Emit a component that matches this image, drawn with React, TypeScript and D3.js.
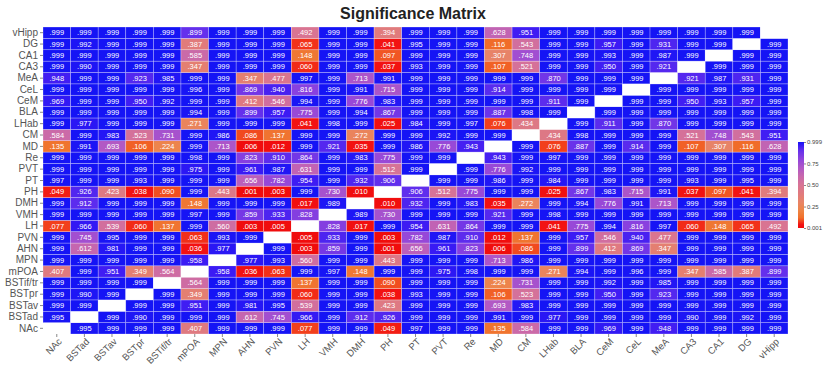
import React, { useEffect, useRef } from "react";
import * as d3 from "d3";

// region order: columns left->right, rows bottom->top
const regions = [
  "NAc", "BSTad", "BSTav", "BSTpr", "BSTif/tr", "mPOA", "MPN", "AHN", "PVN",
  "LH", "VMH", "DMH", "PH", "PT", "PVT", "Re", "MD", "CM", "LHab", "BLA",
  "CeM", "CeL", "MeA", "CA3", "CA1", "DG", "vHipp",
];

// lower triangle, row i holds p-values vs regions[0..i-1]
const rowBSTad = [0.995];
const rowBSTav = [0.999, 0.999];
const rowBSTpr = [0.999, 0.99, 0.999];
const rowBSTif = [0.999, 0.999, 0.999, 0.999];
const rowmPOA = [0.407, 0.999, 0.951, 0.349, 0.564];
const rowMPN = [0.999, 0.999, 0.999, 0.999, 0.999, 0.958];
const rowAHN = [0.999, 0.612, 0.981, 0.999, 0.999, 0.036, 0.977];
const rowPVN = [0.999, 0.745, 0.995, 0.999, 0.999, 0.063, 0.993, 0.999];
const rowLH = [0.077, 0.966, 0.539, 0.06, 0.137, 0.999, 0.56, 0.003, 0.005];
const rowVMH = [0.999, 0.999, 0.999, 0.999, 0.999, 0.997, 0.999, 0.859, 0.933, 0.828];
const rowDMH = [0.999, 0.912, 0.999, 0.999, 0.999, 0.148, 0.999, 0.999, 0.999, 0.017, 0.989];
const rowPH = [0.049, 0.926, 0.423, 0.038, 0.09, 0.999, 0.443, 0.001, 0.003, 0.999, 0.73, 0.01];
const rowPT = [0.997, 0.999, 0.999, 0.993, 0.999, 0.999, 0.999, 0.656, 0.782, 0.954, 0.999, 0.932, 0.906];
const rowPVT = [0.999, 0.999, 0.999, 0.999, 0.999, 0.975, 0.999, 0.961, 0.987, 0.631, 0.999, 0.999, 0.512, 0.999];
const rowRe = [0.999, 0.999, 0.999, 0.999, 0.999, 0.998, 0.999, 0.823, 0.91, 0.864, 0.999, 0.983, 0.775, 0.999, 0.999];
const rowMD = [0.135, 0.991, 0.693, 0.106, 0.224, 0.999, 0.713, 0.006, 0.012, 0.999, 0.921, 0.035, 0.999, 0.986, 0.776, 0.943];
const rowCM = [0.584, 0.999, 0.983, 0.523, 0.731, 0.999, 0.986, 0.086, 0.137, 0.999, 0.999, 0.272, 0.999, 0.999, 0.992, 0.999, 0.999];
const rowLHab = [0.999, 0.977, 0.999, 0.999, 0.999, 0.271, 0.999, 0.999, 0.999, 0.041, 0.998, 0.999, 0.025, 0.984, 0.999, 0.997, 0.076, 0.434];
const rowBLA = [0.999, 0.999, 0.999, 0.999, 0.999, 0.994, 0.999, 0.899, 0.957, 0.775, 0.999, 0.994, 0.867, 0.999, 0.999, 0.999, 0.887, 0.998, 0.999];
const rowCeM = [0.969, 0.999, 0.999, 0.95, 0.992, 0.999, 0.999, 0.412, 0.546, 0.994, 0.999, 0.776, 0.983, 0.999, 0.999, 0.999, 0.999, 0.999, 0.911, 0.999];
const rowCeL = [0.999, 0.999, 0.999, 0.999, 0.999, 0.996, 0.999, 0.869, 0.94, 0.816, 0.999, 0.991, 0.715, 0.999, 0.999, 0.999, 0.914, 0.999, 0.999, 0.999, 0.999];
const rowMeA = [0.948, 0.999, 0.999, 0.923, 0.985, 0.999, 0.999, 0.347, 0.477, 0.997, 0.999, 0.713, 0.991, 0.999, 0.999, 0.999, 0.999, 0.999, 0.87, 0.999, 0.999, 0.999];
const rowCA3 = [0.999, 0.99, 0.999, 0.999, 0.999, 0.347, 0.999, 0.999, 0.999, 0.06, 0.999, 0.999, 0.037, 0.993, 0.999, 0.999, 0.107, 0.521, 0.999, 0.999, 0.95, 0.999, 0.921];
const rowCA1 = [0.999, 0.999, 0.999, 0.999, 0.999, 0.585, 0.999, 0.999, 0.999, 0.148, 0.999, 0.999, 0.097, 0.999, 0.999, 0.999, 0.307, 0.748, 0.999, 0.999, 0.993, 0.999, 0.987, 0.999];
const rowDG = [0.999, 0.992, 0.999, 0.999, 0.999, 0.387, 0.999, 0.999, 0.999, 0.065, 0.999, 0.999, 0.041, 0.995, 0.999, 0.999, 0.116, 0.543, 0.999, 0.999, 0.957, 0.999, 0.931, 0.999, 0.999];
const rowvHipp = [0.999, 0.999, 0.999, 0.999, 0.999, 0.899, 0.999, 0.999, 0.999, 0.492, 0.999, 0.999, 0.394, 0.999, 0.999, 0.999, 0.628, 0.951, 0.999, 0.999, 0.999, 0.999, 0.999, 0.999, 0.999, 0.999];

const lowerRows = [
  [], rowBSTad, rowBSTav, rowBSTpr, rowBSTif, rowmPOA, rowMPN, rowAHN, rowPVN,
  rowLH, rowVMH, rowDMH, rowPH, rowPT, rowPVT, rowRe, rowMD, rowCM, rowLHab,
  rowBLA, rowCeM, rowCeL, rowMeA, rowCA3, rowCA1, rowDG, rowvHipp,
];

const colorTicks = [0.999, 0.75, 0.5, 0.25, 0.001];
const colorTickLabels = ["0.999", "0.75", "0.50", "0.25", "0.001"];

const FONT = "'Liberation Sans', Arial, sans-serif";

function buildCells() {
  const cells: { row: string; col: string; value: number | null }[] = [];
  for (let i = 0; i < regions.length; i++) {
    for (let j = 0; j < regions.length; j++) {
      let v: number | null = null;
      if (j < i) v = lowerRows[i][j];
      else if (j > i) v = lowerRows[j][i];
      cells.push({ row: regions[i], col: regions[j], value: v });
    }
  }
  return cells;
}

export default function App() {
  const ref = useRef<SVGSVGElement>(null);

  useEffect(() => {
    const svg = d3.select(ref.current);
    svg.selectAll("*").remove();

    const left = 43, right = 788, top = 27, bottom = 334;

    const x = d3.scaleBand().domain(regions).range([left, right]);
    const y = d3.scaleBand().domain(regions.slice().reverse()).range([top, bottom]);

    // red -> orange -> salmon -> pink -> purple -> blue
    const color = d3
      .scaleLinear<string>()
      .domain([0, 0.04, 0.07, 0.12, 0.2, 0.3, 0.4, 0.5, 0.6, 0.7, 0.8, 0.9, 0.96, 1])
      .range([
        "#f00c0c", "#f21212", "#f2381a", "#f0702a", "#ee8444", "#e88466",
        "#e07a7e", "#d87494", "#c868ac", "#b058c6", "#9044dc", "#6430ec",
        "#3a1af4", "#1414f5",
      ])
      .clamp(true);

    const fmt = (v: number) => d3.format(".3f")(v).replace(/^0/, "");

    const cells = buildCells();
    const g = svg.append("g");
    g.selectAll("rect")
      .data(cells)
      .enter()
      .append("rect")
      .attr("x", (d) => x(d.col)!)
      .attr("y", (d) => y(d.row)!)
      .attr("width", x.bandwidth())
      .attr("height", y.bandwidth())
      .attr("fill", (d) => (d.value === null ? "#ffffff" : color(d.value)))
      .attr("stroke", "rgba(255,255,255,0.45)")
      .attr("stroke-width", 0.6);

    g.selectAll("text")
      .data(cells.filter((d) => d.value !== null))
      .enter()
      .append("text")
      .attr("x", (d) => x(d.col)! + x.bandwidth() / 2)
      .attr("y", (d) => y(d.row)! + y.bandwidth() / 2)
      .attr("dy", "0.35em")
      .attr("text-anchor", "middle")
      .attr("fill", "#ffffff")
      .style("font-family", FONT)
      .style("font-size", "7.5px")
      .text((d) => fmt(d.value as number));

    // row labels
    const yAxis = svg
      .append("g")
      .attr("transform", `translate(${left},0)`)
      .call(d3.axisLeft(y).tickSize(3).tickPadding(2));
    yAxis.select(".domain").remove();
    yAxis.selectAll("line").attr("stroke", "#888");
    yAxis
      .selectAll("text")
      .attr("fill", "#555")
      .style("font-family", FONT)
      .style("font-size", "10px");

    // column labels
    const xAxis = svg
      .append("g")
      .attr("transform", `translate(0,${bottom})`)
      .call(d3.axisBottom(x).tickSize(3).tickPadding(2));
    xAxis.select(".domain").remove();
    xAxis.selectAll("line").attr("stroke", "#888");
    xAxis
      .selectAll("text")
      .attr("fill", "#555")
      .style("font-family", FONT)
      .style("font-size", "9.5px")
      .attr("text-anchor", "end")
      .attr("dx", "-0.2em")
      .attr("dy", "0.5em")
      .attr("transform", "rotate(-45)");

    // title
    svg
      .append("text")
      .attr("x", 413)
      .attr("y", 19)
      .attr("text-anchor", "middle")
      .attr("fill", "#222")
      .style("font-family", FONT)
      .style("font-weight", "bold")
      .style("font-size", "16px")
      .text("Significance Matrix");

    // colour bar
    const cbX = 798, cbW = 6, cbTop = 142, cbBottom = 228;
    const cbScale = d3.scaleLinear().domain([0.001, 0.999]).range([cbBottom, cbTop]);
    const defs = svg.append("defs");
    const grad = defs
      .append("linearGradient")
      .attr("id", "cbgrad")
      .attr("x1", 0).attr("y1", 1).attr("x2", 0).attr("y2", 0);
    d3.range(0, 1.0001, 0.02).forEach((t) => {
      grad.append("stop").attr("offset", t).attr("stop-color", color(t));
    });
    svg
      .append("rect")
      .attr("x", cbX)
      .attr("y", cbTop)
      .attr("width", cbW)
      .attr("height", cbBottom - cbTop)
      .attr("fill", "url(#cbgrad)");

    const cbAxis = svg
      .append("g")
      .attr("transform", `translate(${cbX + cbW},0)`)
      .call(
        d3
          .axisRight(cbScale)
          .tickValues(colorTicks)
          .tickFormat((_, i) => colorTickLabels[i])
          .tickSize(2)
          .tickPadding(1)
      );
    cbAxis.select(".domain").remove();
    cbAxis.selectAll("line").attr("stroke", "#888");
    cbAxis
      .selectAll("text")
      .attr("fill", "#444")
      .style("font-family", FONT)
      .style("font-size", "6px");
  }, []);

  return (
    <svg
      ref={ref}
      width={825}
      height={369}
      style={{ position: "absolute", left: 0, top: 0, background: "#fff" }}
    ></svg>
  );
}
